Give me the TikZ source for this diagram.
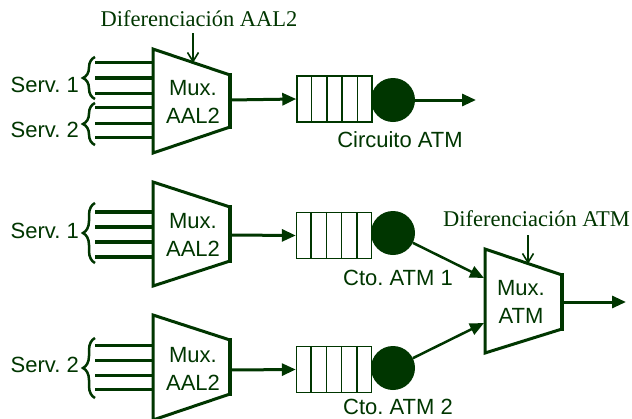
\documentclass[tikz,border=0pt]{standalone}
\usepackage{fontspec}
\setmainfont{Liberation Serif}
\setsansfont{Liberation Sans}
\usetikzlibrary{arrows.meta,decorations.pathreplacing,calc}
\definecolor{dg}{RGB}{0,54,0}
\frenchspacing
\begin{document}
\begin{tikzpicture}[x=1pt,y=-1pt,
  lbl/.style={text=dg,font=\sffamily\fontsize{22}{28}\selectfont\frenchspacing, inner sep=0pt},
  dif/.style={text=dg,font=\fontsize{22.5}{26}\selectfont, inner sep=0pt},
  muxtext/.style={lbl, align=center},
  muxshape/.style={draw=dg, line width=3pt, fill=white, line join=miter},
  muxright/.style={draw=dg, line width=4.5pt},
  queue/.style={draw=dg, line width=1.4pt, fill=white, minimum width=75pt, minimum height=46pt, inner sep=0pt},
  cell/.style={draw=dg, line width=1.4pt},
  server/.style={circle, fill=dg, minimum size=44pt, inner sep=0pt},
  flow/.style={draw=dg, line width=3pt, -{Triangle[length=14pt,width=12pt]}},
  pointer/.style={draw=dg, line width=1.6pt, -{Straight Barb[length=9pt,width=11pt]}},
  inl/.style={draw=dg, line width=3pt},
  brc/.style={draw=dg, line width=2.5pt, decorate, decoration={brace, amplitude=12pt}},
]
\fill[white] (0,0) rectangle (632,418);
\useasboundingbox (0,0) rectangle (632,418);

% ---------- top row ----------
\node[dif] (dif1) at (199,19) {Diferenciación AAL2};
\coordinate (p1a) at (193,33);
\coordinate (p1b) at (193,63);

\foreach \y/\w in {62/3,78/4.5,93/3,107/3,123/3,137/3}
  \draw[inl, line width=\w pt] (95,\y) -- (153,\y);
\draw[brc] (95,99) -- (95,57);
\draw[brc] (95,145) -- (95,103);
\node[lbl, anchor=east] (s11) at (79,85) {Serv. 1};
\node[lbl, anchor=east] (s12) at (79,130) {Serv. 2};

\draw[muxshape] (153,49) -- (230,75) -- (230,127) -- (153,153) -- cycle;
\draw[muxright] (230,73) -- (230,129);
\node[muxtext] (mux1) at (193,102) {Mux.\\AAL2};
\coordinate (mux1out) at (230,100);

\node[queue] (q1) at (334.5,99) {};
\foreach \i in {1,...,4}
  \draw[cell] ($(q1.north west)!\i/5!(q1.north east)$) -- ($(q1.south west)!\i/5!(q1.south east)$);
\node[server] (c1) at (393,100) {};
\coordinate (out1) at (476,100);
\node[lbl] (circ) at (400,140) {Circuito ATM};

\draw[pointer] (p1a) -- (p1b);
\draw[flow] (mux1out) -- (q1.west);
\draw[flow] (c1.east) -- (out1);

% ---------- middle row ----------
\foreach \y/\w in {212/3.5,227/4.5,242/3.5,257/4.5}
  \draw[inl, line width=\w pt] (95,\y) -- (153,\y);
\draw[brc] (95,263) -- (95,203);
\node[lbl, anchor=east] (s21) at (79,231) {Serv. 1};

\draw[muxshape] (153,182) -- (230,207) -- (230,261) -- (153,286) -- cycle;
\draw[muxright] (230,205) -- (230,263);
\node[muxtext] (mux2) at (193,235) {Mux.\\AAL2};
\coordinate (mux2out) at (230,235);

\node[queue] (q2) at (334,235.5) {};
\foreach \i in {1,...,4}
  \draw[cell] ($(q2.north west)!\i/5!(q2.north east)$) -- ($(q2.south west)!\i/5!(q2.south east)$);
\node[server] (c2) at (393,233) {};
\node[lbl] (cto1) at (398,278) {Cto. ATM 1};

\draw[flow] (mux2out) -- (q2.west);

% ---------- bottom row ----------
\foreach \y in {345,360,375,389}
  \draw[inl] (95,\y) -- (153,\y);
\draw[brc] (95,398) -- (95,338);
\node[lbl, anchor=east] (s31) at (79,365) {Serv. 2};

\draw[muxshape] (153,315) -- (230,340) -- (230,394) -- (153,420) -- cycle;
\draw[muxright] (230,338) -- (230,396);
\node[muxtext] (mux3) at (193,369) {Mux.\\AAL2};
\coordinate (mux3out) at (230,370);

\node[queue] (q3) at (334,369.5) {};
\foreach \i in {1,...,4}
  \draw[cell] ($(q3.north west)!\i/5!(q3.north east)$) -- ($(q3.south west)!\i/5!(q3.south east)$);
\node[server] (c3) at (393,368) {};
\node[lbl] (cto2) at (398,407) {Cto. ATM 2};

\draw[flow] (mux3out) -- (q3.west);

% ---------- ATM multiplexer ----------
\node[dif] (dif2) at (536.5,219) {Diferenciación ATM};
\coordinate (p2a) at (528,235);
\coordinate (p2b) at (528,264);

\draw[muxshape] (485,249) -- (562,275) -- (562,329) -- (485,353) -- cycle;
\draw[muxright] (562,273) -- (562,331);
\node[muxtext] (muxatm) at (521,302) {Mux.\\ATM};
\coordinate (atmin1) at (484,278);
\coordinate (atmin2) at (484,323);
\coordinate (atmout) at (562,302);
\coordinate (out2) at (626,302);

\draw[pointer] (p2a) -- (p2b);
\draw[flow, line width=2.5pt] (c2) -- (atmin1);
\draw[flow, line width=2.5pt] (c3) -- (atmin2);
\draw[flow] (atmout) -- (out2);
\end{tikzpicture}
\end{document}
